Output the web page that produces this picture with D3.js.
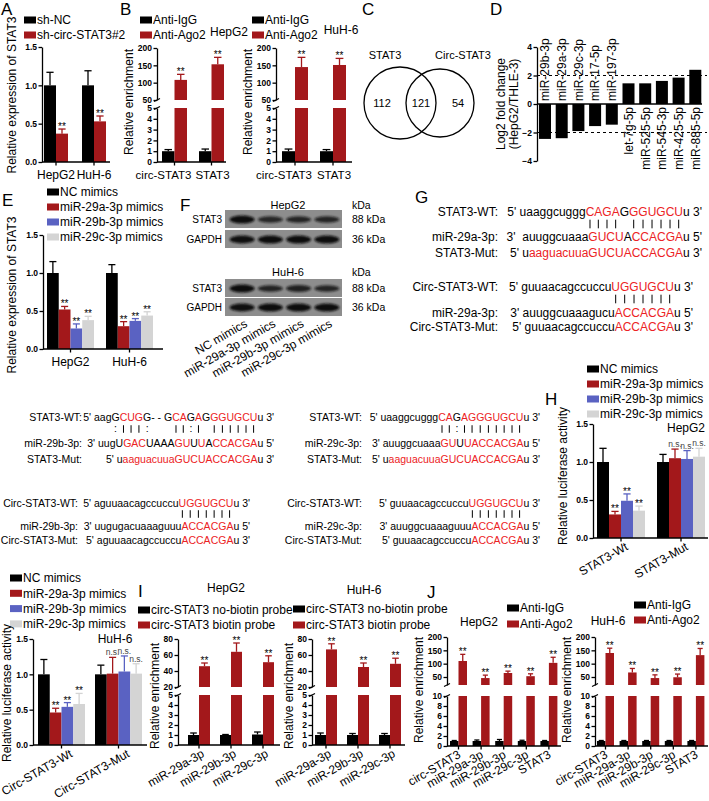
<!DOCTYPE html>
<html><head><meta charset="utf-8">
<script src="https://cdn.jsdelivr.net/npm/d3@7"></script>
<style>
html,body{margin:0;padding:0;background:#fff;}
svg{display:block;}
</style></head><body>
<svg id="fig" width="709" height="801"></svg>
<script>
// ================= DATA =================
const aCats=["HepG2","HuH-6"];
const aSeries=["sh-NC","sh-circ-STAT3#2"];
const aMean=[[1.00,0.37],[1.00,0.53]];
const aErr=[[0.17,0.06],[0.19,0.07]];
const aSig=[["","**"],["","**"]];
const unitTicks=[0,0.5,1.0,1.5];

const bCats=["circ-STAT3","STAT3"];
const agoSeries=["Anti-IgG","Anti-Ago2"];
const bHepMean=[[1.0,108],[1.0,153]];
const bHepErr=[[0.15,16],[0.2,20]];
const bHuhMean=[[1.0,145],[1.0,151]];
const bHuhErr=[[0.2,28],[0.15,19]];
const bSig=[["","**"],["","**"]];
const bLowTicks=[0,1,2,3,4,5];
const bHighTicks=[50,100,150,200];

const vennSets=["STAT3","Circ-STAT3"];
const vennCounts=[112,121,54];

const dMirs=["miR-29b-3p","miR-29a-3p","miR-29c-3p","miR-17-5p","miR-197-3p","let-7g-5p","miR-525-5p","miR-545-3p","miR-425-5p","miR-885-5p"];
const dFC=[-2.45,-2.40,-1.90,-1.55,-1.45,1.45,1.45,1.62,1.85,2.40];
const dTicks=[-4,-2,0,2,4];
const dCut=[-2,2];

const mimicSeries=["NC mimics","miR-29a-3p mimics","miR-29b-3p mimics","miR-29c-3p mimics"];
const eCats=["HepG2","HuH-6"];
const eMean=[[1.00,0.52,0.27,0.38],[1.00,0.30,0.37,0.44]];
const eErr=[[0.15,0.04,0.06,0.05],[0.11,0.06,0.03,0.05]];
const eSig=[["","**","**","**"],["","**","**","**"]];

const fLanes=["NC mimics","miR-29a-3p mimics","miR-29b-3p mimics","miR-29c-3p mimics"];
const fCells=["HepG2","HuH-6"];
const fProteins=["STAT3","GAPDH"];
const fKda=["88 kDa","36 kDa"];
const fHepBands=[[1.0,0.55,0.6,0.58],[0.95,1.0,1.0,1.0]];
const fHuhBands=[[1.0,0.62,0.66,0.6],[0.95,1.0,1.0,1.0]];

const g29aLabels=["STAT3-WT:","miR-29a-3p:","STAT3-Mut:","Circ-STAT3-WT:","miR-29a-3p:","Circ-STAT3-Mut:"];
const g29aRows=[
 [["5' uaaggcuggg","k"],["CAGA","r"],["G","k"],["GGUGCU","r"],["u 3'","k"]],
 [["3'  auuggcuaaa","k"],["GUCU","r"],["A","k"],["CCACGA","r"],["u 5'","k"]],
 [["5' u","k"],["aaguacuuaGUCUACCACGA","r"],["u 3'","k"]],
 [["5' guuaacagccuccu","k"],["UGGUGCU","r"],["u 3'","k"]],
 [["3' auuggcuaaagucu","k"],["ACCACGA","r"],["u 5'","k"]],
 [["5' guuaacagccuccu","k"],["ACCACGA","r"],["u 3'","k"]]
];
const g29aPairs=["             |||| ||||||","                 |||||||"];

const g29bLabels=["STAT3-WT:","miR-29b-3p:","STAT3-Mut:","Circ-STAT3-WT:","miR-29b-3p:","Circ-STAT3-Mut:"];
const g29bRows=[
 [["5' aagG","k"],["CUG","r"],["G- - G","k"],["CA","r"],["G","k"],["A","r"],["G","k"],["GGUGCU","r"],["u 3'","k"]],
 [["3' uugU","k"],["GAC","r"],["UAAA","k"],["GU","r"],["U","k"],["U","r"],["A","k"],["CCACGA","r"],["u 5'","k"]],
 [["5' u","k"],["aaguacuuaGUCUACCACGA","r"],["u 3'","k"]],
 [["5' aguuaacagccuccu","k"],["UGGUGCU","r"],["u 3'","k"]],
 [["3' uugugacuaaaguuu","k"],["ACCACGA","r"],["u 5'","k"]],
 [["5' aguuaacagccuccu","k"],["ACCACGA","r"],["u 3'","k"]]
];
const g29bPairs=["      :|||:     ||:| ||||||","                  |||||||"];

const g29cLabels=["STAT3-WT:","miR-29c-3p:","STAT3-Mut:","Circ-STAT3-WT:","miR-29c-3p:","Circ-STAT3-Mut:"];
const g29cRows=[
 [["5' uaaggcuggg","k"],["CA","r"],["G","k"],["AGGGUGCU","r"],["u 3'","k"]],
 [["3' auuggcuaaa","k"],["GU","r"],["U","k"],["UACCACGA","r"],["u 5'","k"]],
 [["5' u","k"],["aaguacuuaGUCUACCACGA","r"],["u 3'","k"]],
 [["5' guuaacagccuccu","k"],["UGGUGCU","r"],["u 3'","k"]],
 [["3' auuggcuaaaguuu","k"],["ACCACGA","r"],["u 5'","k"]],
 [["5' guuaacagccuccu","k"],["ACCACGA","r"],["u 3'","k"]]
];
const g29cPairs=["             ||:||||||||","                 |||||||"];

const hCats=["STAT3-Wt","STAT3-Mut"];
const hMean=[[1.00,0.31,0.49,0.36],[1.00,1.05,1.04,1.07]];
const hErr=[[0.18,0.04,0.09,0.06],[0.10,0.12,0.11,0.11]];
const hSig=[["","**","**","**"],["","n.s.","n.s.","n.s."]];

const kCats=["Circ-STAT3-Wt","Circ-STAT3-Mut"];
const kMean=[[1.00,0.46,0.54,0.58],[1.00,1.01,1.04,1.01]];
const kErr=[[0.21,0.06,0.06,0.15],[0.13,0.23,0.22,0.14]];
const kSig=[["","**","**","**"],["","n.s.","n.s.","n.s."]];

const iCats=["miR-29a-3p","miR-29b-3p","miR-29c-3p"];
const iSeries=["circ-STAT3 no-biotin probe","circ-STAT3 biotin probe"];
const iHepMean=[[1.0,46],[1.0,64],[1.05,51]];
const iHepErr=[[0.2,4],[0.05,11],[0.25,8]];
const iHuhMean=[[1.0,67],[1.0,45],[1.0,49]];
const iHuhErr=[[0.2,7],[0.15,5],[0.15,7]];
const iSig=[["","**"],["","**"],["","**"]];
const iLowTicks=[0,1,2,3,4,5];
const iHighTicks=[20,40,60,80];

const jCats=["circ-STAT3","miR-29a-3p","miR-29b-3p","miR-29c-3p","STAT3"];
const jHepMean=[[1.0,110],[1.0,46],[1.0,65],[1.0,53],[1.0,103]];
const jHepErr=[[0.1,25],[0.2,11],[0.3,7],[0.15,9],[0.1,21]];
const jHuhMean=[[1.0,140],[1.0,67],[1.0,46],[1.0,49],[1.0,132]];
const jHuhErr=[[0.1,18],[0.1,15],[0.1,12],[0.1,12],[0.1,25]];
const jSig=[["","**"],["","**"],["","**"],["","**"],["","**"]];
const jLowTicks=[0,2,4,6,8,10];
const jHighTicks=[50,100,150,200];

// ================= STYLE =================
const FONT="'Liberation Sans', Arial, Helvetica, sans-serif";
const BLACK="#000000", RED="#a3181b", BLUE="#5a62c2", GREY="#d4d4d4", SEQRED="#ec2224";
const svg=d3.select("#fig").attr("font-family",FONT);
svg.append("rect").attr("width",709).attr("height",801).attr("fill","#fff");
const defs=svg.append("defs");
defs.append("filter").attr("id","blur").attr("x","-30%").attr("y","-80%").attr("width","160%").attr("height","260%")
  .append("feGaussianBlur").attr("stdDeviation",1.1);

function txt(x,y,s,o={}){
  const t=svg.append("text").attr("x",x).attr("y",y).attr("font-size",o.fs||12).text(s);
  if(o.anchor) t.attr("text-anchor",o.anchor);
  if(o.fill) t.attr("fill",o.fill);
  if(o.rot!=null) t.attr("transform",`rotate(${o.rot},${x},${y})`);
  return t;
}
function yTitle(x,yc,s,fs){ return txt(x,yc,s,{anchor:"middle",rot:-90,fs:fs||12}); }
function band(cats,L0,W,S){
  const n=cats.length;
  return d3.scaleBand().domain(cats).range([L0,L0+(n-1)*S+W]).paddingInner(n>1?1-W/S:0).paddingOuter(0);
}
function legend(x,y0,step,labels,colors){
  labels.forEach((l,i)=>{
    const y=y0+i*step;
    svg.append("rect").attr("x",x).attr("y",y-3.5).attr("width",12).attr("height",7).attr("fill",colors[i]);
    txt(x+13,y+4.3,l);
  });
}
function yAxis(g,scale,ticks,x,fmt){
  const a=g.append("g").attr("transform",`translate(${x},0)`)
    .call(d3.axisLeft(scale).tickValues(ticks).tickFormat(fmt).tickSize(3.5).tickSizeOuter(0));
  a.attr("font-family",FONT).attr("font-size",8.5).attr("font-weight","bold");
  a.select(".domain").attr("stroke","#000").attr("stroke-width",1.3);
  a.selectAll(".tick line").attr("stroke","#000").attr("stroke-width",1.3);
  a.selectAll(".tick text").attr("x",-5);
  return a;
}
function chart(p){
  const g=svg.append("g");
  const x0=band(p.cats,p.L0,p.W,p.S);
  const x1=d3.scaleBand().domain(d3.range(p.colors.length)).range([0,p.W]);
  const lo=p.lo, hi=p.hi;
  const loMax=lo.domain()[1];
  const Y=v=>(!hi||v<=loMax)?lo(v):hi(v);
  const base=lo(0);
  p.cats.forEach((c,ci)=>p.colors.forEach((col,si)=>{
    const v=p.mean[ci][si], e=p.err[ci][si];
    const bx=x0(c)+x1(si), bw=x1.bandwidth(), cx=bx+bw/2;
    const segs=(!hi||v<=loMax)?[[lo(v),base]]:[[hi(v),hi(hi.domain()[0])],[lo(loMax),base]];
    segs.forEach(([a,b])=>g.append("rect").attr("x",bx).attr("y",a).attr("width",bw).attr("height",Math.max(0,b-a)).attr("fill",col));
    const yt=Y(v+e);
    g.append("line").attr("x1",cx).attr("x2",cx).attr("y1",Y(v)).attr("y2",yt).attr("stroke",col).attr("stroke-width",1.3);
    g.append("line").attr("x1",cx-bw*0.3).attr("x2",cx+bw*0.3).attr("y1",yt).attr("y2",yt).attr("stroke",col).attr("stroke-width",1.3);
    const s=p.sig&&p.sig[ci][si];
    if(s) g.append("text").attr("x",cx).attr("y",s==="**"?yt+1:yt-2).attr("text-anchor","middle")
      .attr("font-size",s==="**"?10:8.5).attr("fill",s==="**"?"#000":"#444").text(s);
  }));
  yAxis(g,lo,p.loTicks,p.axisX,p.fmt);
  if(hi){
    yAxis(g,hi,p.hiTicks,p.axisX,p.fmt);
    const yb=hi(hi.domain()[0]), yl=lo(loMax);
    g.append("line").attr("x1",p.axisX-3).attr("x2",p.axisX+3).attr("y1",yb+1.5).attr("y2",yb-1.5).attr("stroke","#000").attr("stroke-width",1.2);
    g.append("line").attr("x1",p.axisX-3).attr("x2",p.axisX+3).attr("y1",yl+1.5).attr("y2",yl-1.5).attr("stroke","#000").attr("stroke-width",1.2);
  }
  g.append("line").attr("x1",p.axisX).attr("x2",p.xEnd).attr("y1",base).attr("y2",base).attr("stroke","#000").attr("stroke-width",1.3);
  p.cats.forEach((c,ci)=>{
    const cx=x0(c)+p.W/2;
    g.append("line").attr("x1",cx).attr("x2",cx).attr("y1",base).attr("y2",base+3.5).attr("stroke","#000").attr("stroke-width",1.3);
    const sh=p.ldx?p.ldx[ci]:0;
    if(p.rot) g.append("text").attr("transform",`translate(${cx+p.rdx},${base+p.rdy}) rotate(-30)`)
      .attr("text-anchor","end").attr("font-size",12).text(c);
    else g.append("text").attr("x",cx+sh).attr("y",base+16.5).attr("text-anchor","middle").attr("font-size",p.lfs||12).text(c);
  });
}
const f1=d3.format(".1f"), f0=d3.format("d");

// ================= PANEL LETTERS =================
[["A",1,15],["B",120,15],["C",362,15],["D",490,15],["E",2,206],["F",180,211],["G",415,203],["H",545,405],["I",138,597],["J",427,598]]
  .forEach(([s,x,y])=>txt(x,y,s,{fs:17}));

// ================= A =================
legend(24,20,15,aSeries,[BLACK,RED]);
chart({cats:aCats,colors:[BLACK,RED],mean:aMean,err:aErr,sig:aSig,axisX:42,xEnd:110,L0:44,W:24,S:38,
  lo:d3.scaleLinear().domain([0,1.5]).range([162,47]),loTicks:unitTicks,fmt:f1});
yTitle(16,95,"Relative expression of STAT3");

// ================= B =================
legend(140,20,15,agoSeries,[BLACK,RED]);
txt(229,36,"HepG2",{anchor:"middle"});
legend(252,20,15,agoSeries,[BLACK,RED]);
txt(341,34,"HuH-6",{anchor:"middle"});
[[157,162,25,37,226,bHepMean,bHepErr],[276,282,26,38,352,bHuhMean,bHuhErr]].forEach(([ax,L0,W,S,xe,m,e])=>{
  chart({cats:bCats,colors:[BLACK,RED],mean:m,err:e,sig:bSig,axisX:ax,xEnd:xe,L0:L0,W:W,S:S,ldx:[-11,1],lfs:11.5,
    lo:d3.scaleLinear().domain([0,5]).range([162,108]),hi:d3.scaleLinear().domain([50,200]).range([100,48]),
    loTicks:bLowTicks,hiTicks:bHighTicks,fmt:f0});
  yTitle(ax-24,102,"Relative enrichment");
});

// ================= C =================
txt(385,59,vennSets[0],{anchor:"middle",fs:11});
txt(463,59,vennSets[1],{anchor:"middle",fs:11});
svg.append("circle").attr("cx",400).attr("cy",103).attr("r",36).attr("fill","none").attr("stroke","#000").attr("stroke-width",1.3);
svg.append("circle").attr("cx",440).attr("cy",103).attr("r",34).attr("fill","none").attr("stroke","#000").attr("stroke-width",1.3);
txt(382,107,String(vennCounts[0]),{anchor:"middle",fs:11});
txt(421,107,String(vennCounts[1]),{anchor:"middle",fs:11});
txt(458,107,String(vennCounts[2]),{anchor:"middle",fs:11});

// ================= D =================
{
  const g=svg.append("g");
  const dY=d3.scaleLinear().domain([-4,4]).range([161,47]);
  const dX=band(dMirs,539,12,16.7);
  dCut.forEach(c=>g.append("line").attr("x1",537).attr("x2",707).attr("y1",dY(c)).attr("y2",dY(c))
    .attr("stroke","#000").attr("stroke-width",1).attr("stroke-dasharray","3,3"));
  dMirs.forEach((m,i)=>{
    const v=dFC[i], bx=dX(m), cx=bx+dX.bandwidth()/2;
    g.append("rect").attr("x",bx).attr("y",Math.min(dY(v),dY(0))).attr("width",dX.bandwidth())
      .attr("height",Math.abs(dY(v)-dY(0))).attr("fill","#000");
    if(v<0) g.append("text").attr("transform",`translate(${cx+4.3},${dY(0)-3}) rotate(-90)`).attr("font-size",12).text(m);
    else g.append("text").attr("transform",`translate(${cx+4.3},${dY(0)+3}) rotate(-90)`).attr("text-anchor","end").attr("font-size",12).text(m);
  });
  g.append("line").attr("x1",537).attr("x2",702).attr("y1",dY(0)).attr("y2",dY(0)).attr("stroke","#000").attr("stroke-width",1.3);
  yAxis(g,dY,dTicks,537,f0);
  yTitle(505,104,"Log2 fold change");
  yTitle(518,104,"(HepG2/THLE-3)");
}

// ================= E =================
legend(47,192,15,mimicSeries,[BLACK,RED,BLUE,GREY]);
chart({cats:eCats,colors:[BLACK,RED,BLUE,GREY],mean:eMean,err:eErr,sig:eSig,axisX:43,xEnd:163,L0:47,W:47,S:59,
  lo:d3.scaleLinear().domain([0,1.5]).range([349,235]),loTicks:unitTicks,fmt:f1});
yTitle(16,295,"Relative expression of STAT3");

// ================= F =================
{
  const g=svg.append("g");
  const bx=225, bw=117, bh=18;
  const lane=d3.scaleBand().domain(d3.range(fLanes.length)).range([228,341]);
  const tops=[[210,230],[279,298]];
  const titles=[205,272];
  [fHepBands,fHuhBands].forEach((bands,ci)=>{
    g.append("text").attr("x",288).attr("y",titles[ci]+4).attr("text-anchor","middle").attr("font-size",11).text(fCells[ci]);
    g.append("text").attr("x",352).attr("y",titles[ci]+4).attr("font-size",10.5).text("kDa");
    bands.forEach((row,ri)=>{
      const y=tops[ci][ri];
      g.append("rect").attr("x",bx).attr("y",y).attr("width",bw).attr("height",bh).attr("fill","#8d8d8d");
      row.forEach((b,li)=>{
        g.append("ellipse").attr("cx",lane(li)+lane.bandwidth()/2).attr("cy",y+bh/2+0.5)
          .attr("rx",12.5).attr("ry",2.2+1.8*b).attr("fill","#111").attr("opacity",0.55+0.45*b).attr("filter","url(#blur)");
      });
      g.append("text").attr("x",222).attr("y",y+bh/2+3.5).attr("text-anchor","end").attr("font-size",10).text(fProteins[ri]);
      g.append("text").attr("x",352).attr("y",y+bh/2+3.5).attr("font-size",10.5).text(fKda[ri]);
    });
  });
  fLanes.forEach((l,li)=>{
    const cx=lane(li)+lane.bandwidth()/2;
    g.append("text").attr("transform",`translate(${cx+6},${326}) rotate(-30)`).attr("text-anchor","end").attr("font-size",12).text(l);
  });
}

// ================= G & sequence blocks =================
function seqBlock(labels,rows,pairs,L){
  const nodes=[];
  rows.forEach((segs,i)=>{
    const h=i<3?0:1;
    txt(L.labelX[h],L.ys[i],labels[i],{anchor:"end",fs:L.fs});
    const t=svg.append("text").attr("x",L.endX[h]).attr("y",L.ys[i]).attr("text-anchor","end")
      .attr("font-size",L.fs).style("white-space","pre");
    segs.forEach(s=>t.append("tspan").attr("fill",s[1]==="r"?SEQRED:"#000").text(s[0]));
    nodes.push(t.node());
  });
  pairs.forEach((ps,k)=>{
    const node=nodes[k*3], n=node.getNumberOfChars();
    for(let i=0;i<ps.length&&i<n;i++){
      const ch=ps[i]; if(ch===" ") continue;
      const ext=node.getExtentOfChar(i), cx=ext.x+ext.width/2;
      if(ch==="|") svg.append("line").attr("x1",cx).attr("x2",cx).attr("y1",L.pairY[k]-L.fs*0.36).attr("y2",L.pairY[k]+L.fs*0.36)
        .attr("stroke","#000").attr("stroke-width",1);
      else svg.append("text").attr("x",cx).attr("y",L.pairY[k]+L.fs*0.32).attr("text-anchor","middle").attr("font-size",L.fs).text(ch);
    }
  });
}
seqBlock(g29aLabels,g29aRows,g29aPairs,{fs:12,labelX:[498,498],endX:[702,693],ys:[216,241,257,291,317,331],pairY:[224,299]});
seqBlock(g29bLabels,g29bRows,g29bPairs,{fs:10.5,labelX:[82,78],endX:[274,250],ys:[421,447,463,507,530,544],pairY:[429,514]});
seqBlock(g29cLabels,g29cRows,g29cPairs,{fs:10.5,labelX:[362,362],endX:[540,540],ys:[421,447,463,507,530,544],pairY:[429,514]});

// ================= H =================
legend(587,369,15,mimicSeries,[BLACK,RED,BLUE,GREY]);
txt(686,432,"HepG2",{anchor:"middle"});
chart({cats:hCats,colors:[BLACK,RED,BLUE,GREY],mean:hMean,err:hErr,sig:hSig,axisX:593,xEnd:708,L0:597,W:48,S:60,
  lo:d3.scaleLinear().domain([0,1.5]).range([538,424]),loTicks:unitTicks,fmt:f1,rot:true,rdx:8,rdy:11});
yTitle(567,476,"Relative luciferase activity");

// ================= bottom-left (HuH-6 luciferase) =================
legend(10,578,15.3,mimicSeries,[BLACK,RED,BLUE,GREY]);
txt(115,643,"HuH-6",{anchor:"middle"});
chart({cats:kCats,colors:[BLACK,RED,BLUE,GREY],mean:kMean,err:kErr,sig:kSig,axisX:33,xEnd:147,L0:38,W:47,S:57,
  lo:d3.scaleLinear().domain([0,1.5]).range([745,639]),loTicks:unitTicks,fmt:f1,rot:true,rdx:12,rdy:11});
yTitle(11,693,"Relative luciferase activity");

// ================= I =================
legend(138,610,15,iSeries,[BLACK,RED]);
txt(226,592,"HepG2",{anchor:"middle"});
legend(293,609,16,iSeries,[BLACK,RED]);
txt(364,594,"HuH-6",{anchor:"middle"});
[[178,188,iHepMean,iHepErr,280],[312,315,iHuhMean,iHuhErr,405]].forEach(([ax,L0,m,e,xe])=>{
  chart({cats:iCats,colors:[BLACK,RED],mean:m,err:e,sig:iSig,axisX:ax,xEnd:xe,L0:L0,W:22,S:32,
    lo:d3.scaleLinear().domain([0,5]).range([745,695]),hi:d3.scaleLinear().domain([20,80]).range([687,639]),
    loTicks:iLowTicks,hiTicks:iHighTicks,fmt:f0,rot:true,rdx:6,rdy:11});
  yTitle(ax-19,696,"Relative enrichment");
});

// ================= J =================
legend(507,608,16,agoSeries,[BLACK,RED]);
txt(479,626,"HepG2",{anchor:"middle"});
legend(634,605,15,agoSeries,[BLACK,RED]);
txt(608,625,"HuH-6",{anchor:"middle"});
[[447,450,jHepMean,jHepErr,561],[595,597,jHuhMean,jHuhErr,708]].forEach(([ax,L0,m,e,xe])=>{
  chart({cats:jCats,colors:[BLACK,RED],mean:m,err:e,sig:jSig,axisX:ax,xEnd:xe,L0:L0,W:17,S:22.6,
    lo:d3.scaleLinear().domain([0,10]).range([746,696]),hi:d3.scaleLinear().domain([20,200]).range([685,637]),
    loTicks:jLowTicks,hiTicks:jHighTicks,fmt:f0,rot:true,rdx:3,rdy:11});
  yTitle(ax-24,690,"Relative enrichment");
});
</script>
</body></html>
